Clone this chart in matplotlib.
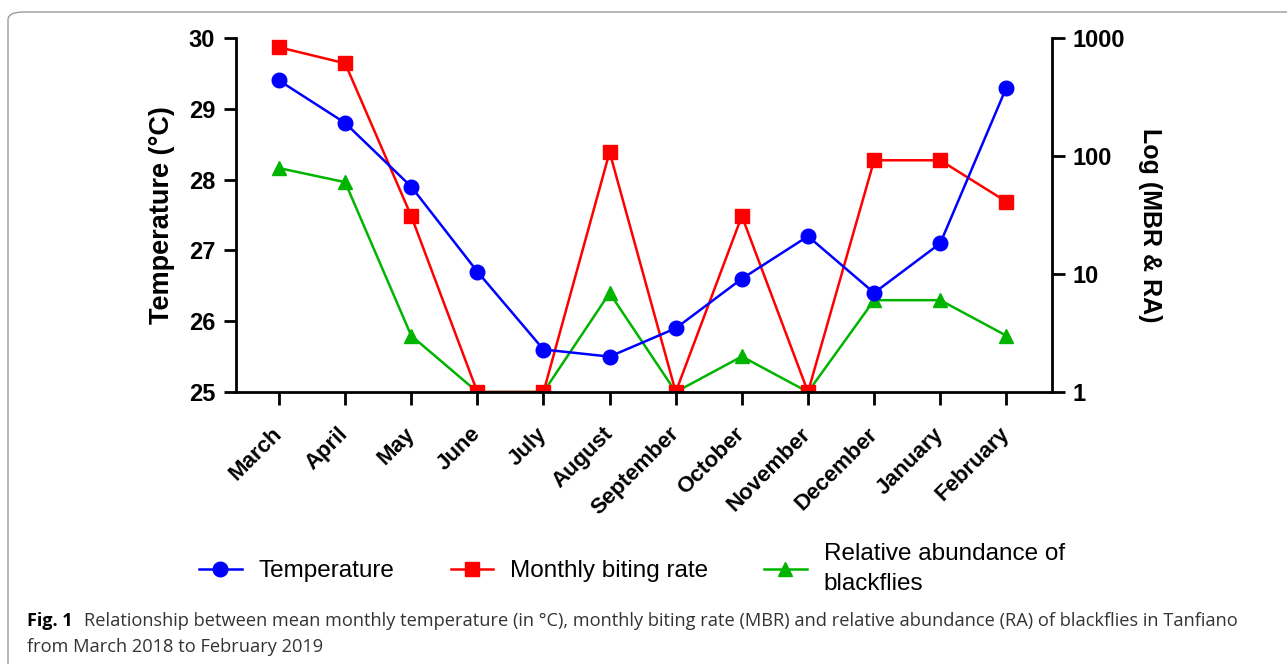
import matplotlib
matplotlib.use("Agg")
import matplotlib.pyplot as plt
from matplotlib.lines import Line2D
from matplotlib.patches import FancyBboxPatch

plt.rcParams['font.family'] = ['Liberation Sans', 'DejaVu Sans']

# data
months = ['March', 'April', 'May', 'June', 'July', 'August', 'September',
          'October', 'November', 'December', 'January', 'February']
temperature = [29.4, 28.8, 27.9, 26.7, 25.6, 25.5, 25.9, 26.6, 27.2, 26.4, 27.1, 29.3]
mbr = [835, 610, 31, 1, 1, 108, 1, 31, 1, 92, 92, 41]
ra = [79, 60, 3.0, 1, 1, 6.9, 1, 2.0, 1, 6.0, 6.0, 3.0]

fig = plt.figure(figsize=(12.87, 6.64), dpi=100)

# outer rounded frame of the figure panel
frame = FancyBboxPatch((8/1287, -0.2), 1.2, 1.2 - 12/664,
                       boxstyle="round,pad=0,rounding_size=0.012",
                       transform=fig.transFigure, fill=False,
                       edgecolor='#9a9a9a', linewidth=1.0)
fig.patches.append(frame)

ax = fig.add_axes([236/1287, 1 - 392/664, (1052 - 236)/1287, (392 - 38)/664])
ax2 = ax.twinx()
ax.set_zorder(ax2.get_zorder() + 1)
ax.patch.set_visible(False)

x = list(range(len(months)))

ax2.plot(x, ra, color='#00b400', marker='^', markersize=10.5, linewidth=1.8)
ax2.plot(x, mbr, color='#ff0000', marker='s', markersize=10.5, linewidth=1.8)
ax.plot(x, temperature, color='#0000ff', marker='o', markersize=10.5, linewidth=1.8)

ax.set_xlim(-0.65, 11.69)
ax.set_ylim(25, 30)
ax2.set_yscale('log')
ax2.set_ylim(1, 1000)
ax2.set_yticks([1, 10, 100, 1000])
ax2.set_yticklabels(['1', '10', '100', '1000'])
ax2.minorticks_off()

for a in (ax, ax2):
    a.spines['top'].set_visible(False)
    for s in ('left', 'right', 'bottom'):
        a.spines[s].set_linewidth(2.0)
ax.spines['right'].set_visible(False)
ax2.spines['left'].set_visible(False)
ax2.spines['bottom'].set_visible(False)

ax.set_xticks(x)
ax.set_xticklabels(months, rotation=45, ha='right', va='center',
                   rotation_mode='anchor', fontsize=16, fontweight='bold')
ax.set_yticks([25, 26, 27, 28, 29, 30])
ax.tick_params(axis='y', length=9, width=2, labelsize=17, pad=6)
ax.tick_params(axis='x', length=9, width=2, pad=19)
for lab in ax.get_yticklabels():
    lab.set_fontweight('bold')
ax2.tick_params(axis='y', length=9, width=2, labelsize=17, pad=6)
for lab in ax2.get_yticklabels():
    lab.set_fontweight('bold')

ax.set_ylabel('Temperature (°C)', fontsize=19.5, fontweight='bold', labelpad=10)
ax2.set_ylabel('Log (MBR & RA)', fontsize=18, fontweight='bold', rotation=270,
               va='center')
ax2.yaxis.set_label_coords(1.12, 0.47)

handles = [
    Line2D([], [], color='#0000ff', marker='o', markersize=10.5, linewidth=1.8),
    Line2D([], [], color='#ff0000', marker='s', markersize=10.5, linewidth=1.8),
    Line2D([], [], color='#00b400', marker='^', markersize=10.5, linewidth=1.8),
]
labels = ['Temperature', 'Monthly biting rate', 'Relative abundance of\nblackflies']
leg = fig.legend(handles, labels, loc='center', bbox_to_anchor=(632/1287, 1 - 569/664),
                 ncol=3, frameon=False, fontsize=17.5, handlelength=1.75,
                 columnspacing=2.3, handletextpad=0.7)
for t in leg.get_texts():
    t.set_linespacing(1.45)

cap = ['Open Sans', 'DejaVu Sans']
fig.text(27/1287, 1 - 621/664, 'Fig. 1', fontsize=13, fontweight='bold',
         family=cap, va='center')
fig.text(84/1287, 1 - 621/664,
         'Relationship between mean monthly temperature (in °C), monthly biting rate (MBR) '
         'and relative abundance (RA) of blackflies in Tanfiano',
         fontsize=13.15, family=cap, va='center', color='#333333')
fig.text(27/1287, 1 - 647/664, 'from March 2018 to February 2019',
         fontsize=13.15, family=cap, va='center', color='#333333')

fig.savefig('out.png', dpi=100)
